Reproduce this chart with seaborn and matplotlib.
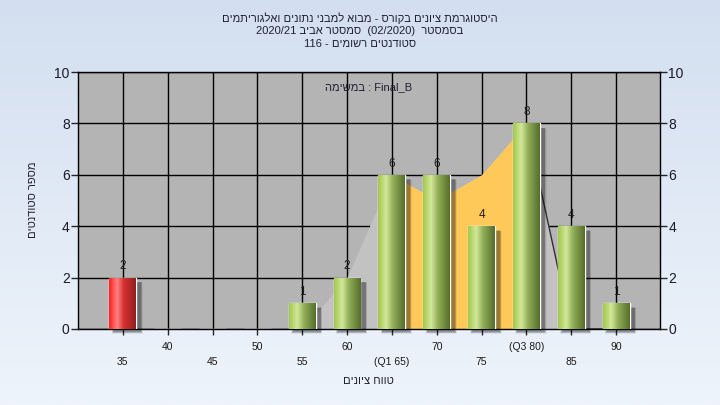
import numpy as np
import matplotlib
matplotlib.use("Agg")
import matplotlib.pyplot as plt
from matplotlib.colors import LinearSegmentedColormap
from matplotlib.patches import Rectangle
import seaborn as sns

# ------------------------------------------------------------------
# dane
# ------------------------------------------------------------------
categories = ["35", "40", "45", "50", "55", "60", "65", "70", "75", "80", "85", "90"]
counts = [2, 0, 0, 0, 1, 2, 6, 6, 4, 8, 4, 1]
tick_labels = ["35", "40", "45", "50", "55", "60", "(Q1 65)", "70", "75", "(Q3 80)", "85", "90"]
curve_vals = [0, 0, 0, 0, 0, 2, 6, 5, 6, 8, 0, 0]
q1_idx, q3_idx = 6, 9
failed = ["35"]

title_lines = [
    "היסטוגרמת ציונים בקורס - מבוא למבני נתונים ואלגוריתמים",
    "בסמסטר  (02/2020)  סמסטר אביב 2020/21",
    "סטודנטים רשומים - 116",
]
task_label = "במשימה"
task_name = "Final_B"
xlabel = "טווח ציונים"
ylabel = "מספר סטודנטים"


def is_heb(s):
    return any("\u0590" <= c <= "\u05ff" for c in s)


def rtl(s):
    # prosty bidi: odwrotna kolejność słów, hebrajskie słowa od tyłu
    words = s.split(" ")
    return " ".join(w[::-1] if is_heb(w) else w for w in reversed(words))


sns.set_style("white")
plt.rcParams["font.family"] = ["Liberation Sans", "DejaVu Sans"]

fig = plt.figure(figsize=(7.2, 4.05), dpi=100)

# tło figury - pionowy gradient
bg = fig.add_axes([0, 0, 1, 1], zorder=-10)
grad = np.linspace(0, 1, 256).reshape(-1, 1)
bg_cmap = LinearSegmentedColormap.from_list("bg", ["#d3dff0", "#eef4fb"])
bg.imshow(grad, aspect="auto", cmap=bg_cmap, extent=[0, 1, 0, 1])
bg.set_axis_off()

ax = fig.add_axes([78 / 720, 76 / 405, 582 / 720, 257 / 405])
ax.set_facecolor("#b4b4b4")

pal = {c: ("#e02020" if c in failed else "#94b84a") for c in categories}
sns.barplot(x=categories, y=counts, hue=categories, palette=pal, legend=False,
            order=categories, width=0.6, saturation=1, ax=ax, zorder=4)

x = np.arange(len(categories))
# szary obszar krzywej i pomarańczowy obszar Q1-Q3
ax.fill_between(x, curve_vals, 0, color="#c2c2c2", lw=0, zorder=1.5)
xs = x[q1_idx:q3_idx + 1]
ax.fill_between(xs, np.array(curve_vals)[q1_idx:q3_idx + 1], 0,
                color="#ffc95a", lw=0, zorder=1.6)
ax.plot(x[q3_idx:], curve_vals[q3_idx:], color="#303030", lw=1, zorder=1.7)

green_cmap = LinearSegmentedColormap.from_list(
    "g", [(0, "#a2c84c"), (0.3, "#d2e89a"), (0.55, "#93b05a"), (1, "#566e2a")])
red_cmap = LinearSegmentedColormap.from_list(
    "r", [(0, "#ff2020"), (0.3, "#ff8080"), (0.55, "#d83030"), (1, "#902020")])
hgrad = np.linspace(0, 1, 64).reshape(1, -1)

for cat, patch in zip(categories, ax.patches):
    h = patch.get_height()
    if h <= 0:
        continue
    x0, w = patch.get_x(), patch.get_width()
    # miękki cień
    for k, a in enumerate([0.06, 0.09, 0.13, 0.18]):
        off = 0.025 * (4 - k)
        sh = Rectangle((x0 + 0.08 - off / 2 + 0.02, -0.1 - off), w + off,
                       h - 0.05 + off / 2,
                       color="black", alpha=a, lw=0, zorder=3, clip_on=False)
        ax.add_patch(sh)
    cm = red_cmap if cat in failed else green_cmap
    im = ax.imshow(hgrad, cmap=cm, aspect="auto", extent=[x0, x0 + w, 0, h],
                   zorder=5, interpolation="bilinear")
    im.set_clip_path(patch)
    ax.text(patch.get_x() + w / 2, h + 0.2, str(int(h)), ha="center", va="bottom",
            fontsize=8.5, color="#202020", zorder=6)

ax.set_xlim(-1, 11.98)
ax.set_ylim(0, 10)
ax.set_yticks(range(0, 11, 2))
ax.set_xticks(x)
ax.set_xticklabels([("\n" + t) if i % 2 == 0 else t for i, t in enumerate(tick_labels)],
                   fontsize=7.5, color="#1a1a1a")
for t in ax.get_xticklabels():
    t.set_linespacing(1.7)
ax.tick_params(axis="y", left=True, right=True, labelright=True, length=5,
               width=1, direction="out", labelsize=10, labelcolor="#1a1a2a", pad=1)
ax.tick_params(axis="x", bottom=True, length=4, width=1, direction="out", pad=5)
ax.grid(True, color="black", lw=1)
ax.set_axisbelow(True)
for s in ax.spines.values():
    s.set_color("black")
    s.set_linewidth(1)

ax.text(0.5, 0.94, rtl(task_label) + " : " + task_name, transform=ax.transAxes,
        ha="center", va="center", fontsize=8, color="#202030")

fig.text(368 / 720, 1 - 381 / 405, rtl(xlabel), ha="center", va="center",
         fontsize=8, color="#202030")
fig.text(33 / 720, 1 - 200 / 405, rtl(ylabel), ha="center", va="center",
         rotation=90, fontsize=8, color="#202030")
for i, line in enumerate(title_lines):
    fig.text(360 / 720, 1 - (18 + 13 * i) / 405, rtl(line), ha="center", va="center",
             fontsize=8, color="#202030")

plt.savefig("out.png", dpi=100)
plt.close()
